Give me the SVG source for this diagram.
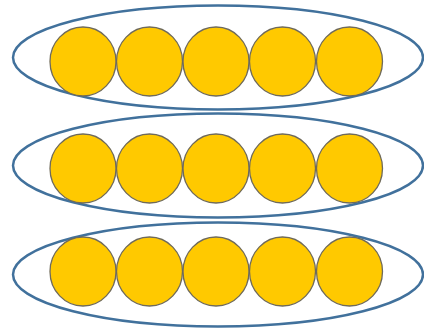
<svg xmlns="http://www.w3.org/2000/svg" width="424" height="328" viewBox="0 0 424 328">
<style>
.grp{fill:none;stroke:#41719C;stroke-width:2.5}
.dot{fill:#FFC900;stroke:#6F6A5A;stroke-width:1.3}
</style>
<rect width="424" height="328" fill="#fff"/>
<g id="row1">
<ellipse class="grp" cx="218" cy="57.5" rx="205" ry="52"/>
<ellipse class="dot" cx="83" cy="61.5" rx="33" ry="34.5"/>
<ellipse class="dot" cx="149.5" cy="61.5" rx="33" ry="34.5"/>
<ellipse class="dot" cx="216" cy="61.5" rx="33" ry="34.5"/>
<ellipse class="dot" cx="282.5" cy="61.5" rx="33" ry="34.5"/>
<ellipse class="dot" cx="349.5" cy="61.5" rx="33" ry="34.5"/>
</g>
<g id="row2">
<ellipse class="grp" cx="218" cy="165.5" rx="205" ry="52"/>
<ellipse class="dot" cx="83" cy="168.5" rx="33" ry="34.5"/>
<ellipse class="dot" cx="149.5" cy="168.5" rx="33" ry="34.5"/>
<ellipse class="dot" cx="216" cy="168.5" rx="33" ry="34.5"/>
<ellipse class="dot" cx="282.5" cy="168.5" rx="33" ry="34.5"/>
<ellipse class="dot" cx="349.5" cy="168.5" rx="33" ry="34.5"/>
</g>
<g id="row3">
<ellipse class="grp" cx="218" cy="274.5" rx="205" ry="52"/>
<ellipse class="dot" cx="83" cy="271.5" rx="33" ry="34.5"/>
<ellipse class="dot" cx="149.5" cy="271.5" rx="33" ry="34.5"/>
<ellipse class="dot" cx="216" cy="271.5" rx="33" ry="34.5"/>
<ellipse class="dot" cx="282.5" cy="271.5" rx="33" ry="34.5"/>
<ellipse class="dot" cx="349.5" cy="271.5" rx="33" ry="34.5"/>
</g>
<g id="connectors"></g>
</svg>
